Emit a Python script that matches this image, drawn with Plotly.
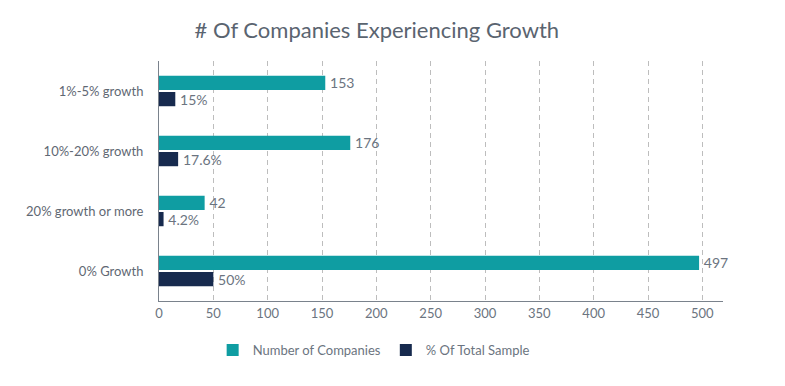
import plotly.graph_objects as go

categories = ["1%-5% growth", "10%-20% growth", "20% growth or more", "0% Growth"]
num_companies = [153, 176, 42, 497]
pct_sample = [15, 17.6, 4.2, 50]
pct_labels = ["15%", "17.6%", "4.2%", "50%"]
x_ticks = [0, 50, 100, 150, 200, 250, 300, 350, 400, 450, 500]

TEAL = "#0f9da2"
NAVY = "#172a4e"
TXT = "#6b7480"
FONT = "Lato, 'Open Sans', sans-serif"
PAD = "\u2009"

fig = go.Figure()
fig.add_trace(go.Bar(
    y=categories, x=num_companies, orientation="h", name="Number of Companies",
    marker=dict(color=TEAL, line=dict(width=0)),
    text=[PAD + str(v) for v in num_companies], textposition="outside", constraintext="none",
    textfont=dict(color=TXT, size=14, family=FONT), cliponaxis=False,
))
fig.add_trace(go.Bar(
    y=categories, x=pct_sample, orientation="h", name="% Of Total Sample",
    marker=dict(color=NAVY, line=dict(width=0)),
    text=[PAD + s for s in pct_labels], textposition="outside", constraintext="none",
    textfont=dict(color=TXT, size=14, family=FONT), cliponaxis=False,
))

fig.update_layout(
    width=785, height=386,
    margin=dict(l=159, r=62, t=61, b=85, autoexpand=False),
    paper_bgcolor="white", plot_bgcolor="white",
    barmode="group", bargap=0.46, bargroupgap=0.12,
    font=dict(family=FONT, color=TXT, size=12),
    title=dict(text="# Of Companies Experiencing Growth", x=0.48, xanchor="center",
               xref="container", y=0.922, yanchor="middle", yref="container",
               font=dict(size=22, color="#5a6470", family=FONT)),
    xaxis=dict(range=[0, 519], tickvals=x_ticks, showgrid=True,
               gridcolor="#bdbdbd", griddash="5px,4px", gridwidth=1,
               showline=True, linecolor="#7a828c", linewidth=1,
               zeroline=False, ticks="", automargin=False,
               tickfont=dict(size=13, color=TXT)),
    yaxis=dict(autorange="reversed", showline=True, linecolor="#7a828c",
               linewidth=1, ticks="", showgrid=False, automargin=False,
               ticklabelstandoff=12,
               tickfont=dict(size=13, color="#5f6873")),
    legend=dict(orientation="h", x=0.476, xanchor="center", xref="container",
                y=0.093, yanchor="middle", yref="container",
                font=dict(size=13, color=TXT), traceorder="normal"),
    showlegend=True,
)
fig.write_html("out.html", config={"displayModeBar": False},
               post_script="document.body.style.margin='0';document.body.style.overflow='hidden';")
